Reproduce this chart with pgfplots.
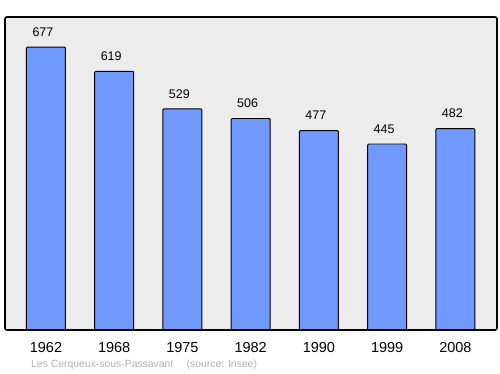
\documentclass[border=0pt]{standalone}
\usepackage{pgfplots}
\pgfplotsset{compat=1.18}
\usepackage{fontspec}
\setmainfont{Liberation Sans}
\definecolor{barblue}{HTML}{7099FF}
\definecolor{bggray}{HTML}{ECECEC}
\definecolor{srcgray}{HTML}{B0B0B0}
\begin{document}
\begin{tikzpicture}[x=1pt,y=1pt]
\path[use as bounding box] (0,0) rectangle (500,374);
\fill[bggray,rounded corners=2pt] (5,44) rectangle (497,357);
\begin{axis}[
  at={(5pt,44pt)}, anchor=south west,
  scale only axis, width=492pt, height=313pt,
  xmin=-0.6, xmax=6.61, ymin=0, ymax=749,
  axis line style={draw=none},
  ytick=\empty,
  xtick=data,
  xticklabels={1962,1968,1975,1982,1990,1999,2008},
  xtick style={draw=none},
  xticklabel style={font=\fontsize{14.5}{15}\selectfont, yshift=-9pt},
  /pgf/number format/assume math mode=true,
  nodes near coords,
  every node near coord/.append style={font=\fontsize{12.5}{13}\selectfont, yshift=7pt, xshift=-3pt},
  clip=false,
]
\addplot[ybar, bar width=39pt, fill=barblue, draw=black, line width=0.9pt, rounded corners=1pt] coordinates {
(0,677) (1,619) (2,529) (3,506) (4,477) (5,445) (6,482)};
\end{axis}
\draw[black,line width=1.6pt,rounded corners=2pt] (5,44) rectangle (497,357);
\node[anchor=west,text=srcgray,font=\fontsize{10.4}{12}\selectfont,inner sep=0] at (31,9) {Les Cerqueux-sous-Passavant\quad\ (source: Insee)};
\end{tikzpicture}
\end{document}
